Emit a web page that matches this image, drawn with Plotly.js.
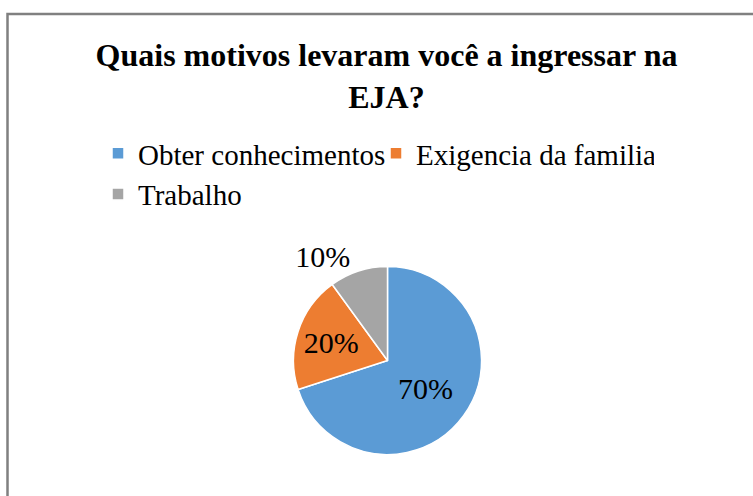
<!DOCTYPE html>
<html>
<head>
<meta charset="utf-8">
<script src="https://cdn.plot.ly/plotly-3.0.1.min.js"></script>
<style>html,body{margin:0;padding:0;background:#fff;}#chart{width:753px;height:496px;}</style>
</head>
<body>
<div id="chart"></div>
<script>
const categories = ["Obter conhecimentos", "Exigencia da familia", "Trabalho"];
const values = [70, 20, 10];
const colors = ["#5B9BD5", "#ED7D31", "#A5A5A5"];
const textPositions = ["inside", "inside", "outside"];

const FONT = "'Liberation Serif', 'Times New Roman', Times, serif";
const W = 753, H = 496, ML = 60, MR = 60;
const PW = W - ML - MR;
const px = v => (v - ML) / PW;
const py = v => (H - v) / H;

const cx = 387.5, cy = 360.5, r = 94;

const trace = {
  type: "pie",
  labels: categories,
  values: values,
  sort: false,
  direction: "clockwise",
  rotation: 0,
  marker: {colors: colors, line: {color: "#ffffff", width: 1.5}},
  textinfo: "percent",
  texttemplate: "%{percent:.0%}",
  textposition: textPositions,
  insidetextorientation: "horizontal",
  textfont: {family: FONT, size: 30, color: "#000000"},
  outsidetextfont: {family: FONT, size: 30, color: "#000000"},
  insidetextfont: {family: FONT, size: 30, color: "#000000"},
  domain: {x: [px(cx - r), px(cx + r)], y: [py(cy + r), py(cy - r)]},
  hoverinfo: "label+percent"
};

const layout = {
  width: W, height: H,
  margin: {l: ML, r: MR, t: 0, b: 0, pad: 0},
  paper_bgcolor: "#ffffff",
  plot_bgcolor: "#ffffff",
  font: {family: FONT, color: "#000000"},
  title: {
    text: "Quais motivos levaram você a ingressar na<br>EJA?",
    font: {family: FONT, size: 32, color: "#000000", weight: "bold"},
    xref: "container", x: 386.5 / W, xanchor: "center",
    yref: "container", y: 1 - 66 / H, yanchor: "top"
  },
  showlegend: true,
  legend: {
    orientation: "h",
    x: px(98), xanchor: "left",
    y: py(128), yanchor: "top",
    entrywidth: 233, entrywidthmode: "pixels",
    font: {family: FONT, size: 29, color: "#000000"},
    bgcolor: "rgba(0,0,0,0)",
    itemclick: false, itemdoubleclick: false
  },
  shapes: [{
    type: "rect", xref: "paper", yref: "paper",
    x0: px(7.5), x1: px(770), y0: py(520), y1: py(14),
    line: {color: "#808080", width: 2.5},
    fillcolor: "rgba(0,0,0,0)", layer: "below"
  }]
};

Plotly.newPlot("chart", [trace], layout, {displayModeBar: false, staticPlot: true});
</script>
</body>
</html>
